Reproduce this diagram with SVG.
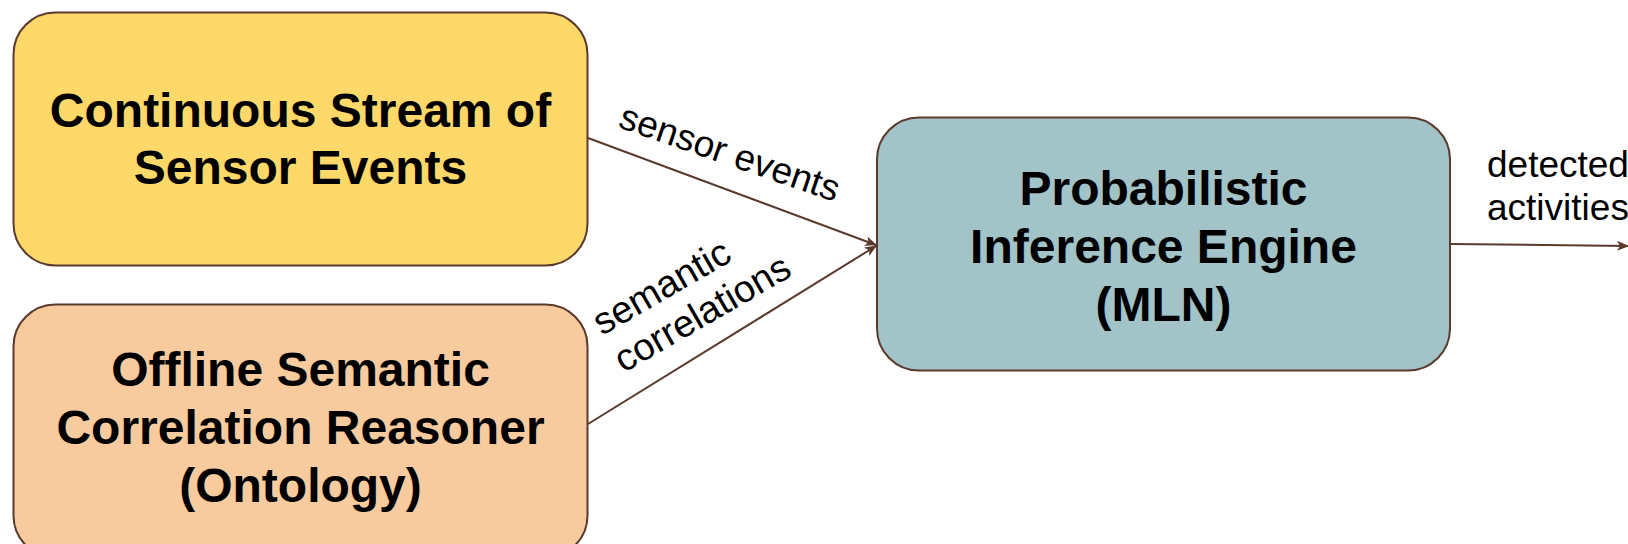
<svg xmlns="http://www.w3.org/2000/svg" width="1628" height="544" viewBox="0 0 1628 544">
<style>
.box{stroke:#5b3a2e;stroke-width:2}
.t{font-family:"Liberation Sans",Arial,sans-serif;font-weight:bold;font-size:48px;fill:#000;text-anchor:middle}
.lbl{font-family:"Liberation Sans",Arial,sans-serif;font-size:37px;fill:#000}
.edge{stroke:#5b3a2e;stroke-width:2;fill:none;marker-end:url(#arr)}
</style>
<defs>
<marker id="arr" viewBox="0 0 12 10" refX="11" refY="5" markerWidth="12" markerHeight="10" markerUnits="userSpaceOnUse" orient="auto">
<path d="M0,0 L12,5 L0,10 L3,5 z" fill="#5b3a2e"/>
</marker>
</defs>
<rect width="1628" height="544" fill="#ffffff"/>
<g id="connectors">
<line class="edge" x1="588" y1="138" x2="876" y2="245"/>
<line class="edge" x1="588" y1="424" x2="876" y2="246"/>
<line class="edge" x1="1450" y1="244" x2="1628" y2="246"/>
<text class="lbl" transform="translate(617,127) rotate(19)">sensor events</text>
<text class="lbl" style="font-size:38px" transform="translate(602,336) rotate(-30)"><tspan x="0" y="0">semantic</tspan><tspan x="0" y="43">correlations</tspan></text>
<text class="lbl"><tspan x="1487" y="177">detected</tspan><tspan x="1487" y="220">activities</tspan></text>
</g>
<g id="sensor-stream">
<rect class="box" x="13.5" y="12.5" width="574" height="253" rx="42" fill="#fed868"/>
<text class="t"><tspan x="300.5" y="127">Continuous Stream of</tspan><tspan x="300.5" y="184">Sensor Events</tspan></text>
</g>
<g id="semantic-reasoner">
<rect class="box" x="13.5" y="304.5" width="574" height="253" rx="42" fill="#f8cb9e"/>
<text class="t"><tspan x="300.5" y="386">Offline Semantic</tspan><tspan x="300.5" y="444">Correlation Reasoner</tspan><tspan x="300.5" y="502">(Ontology)</tspan></text>
</g>
<g id="inference-engine">
<rect class="box" x="877" y="117.5" width="573" height="253" rx="42" fill="#a2c3c8"/>
<text class="t"><tspan x="1163.5" y="205">Probabilistic</tspan><tspan x="1163.5" y="263">Inference Engine</tspan><tspan x="1163.5" y="321">(MLN)</tspan></text>
</g>
</svg>
